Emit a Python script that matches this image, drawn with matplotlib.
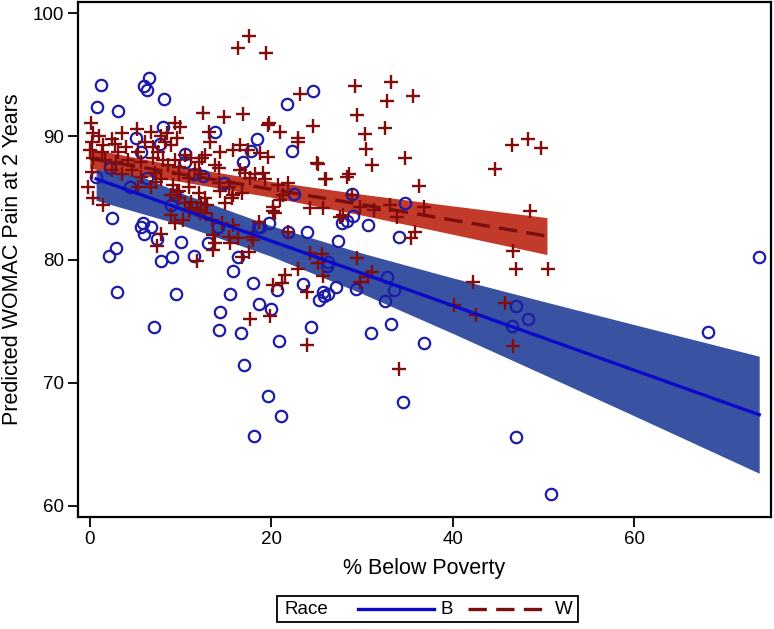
import matplotlib
matplotlib.use("Agg")
import matplotlib.pyplot as plt
from matplotlib.lines import Line2D
from matplotlib.patches import Rectangle

# ---------------- data ----------------
b_x = [1.27, 0.83, 3.14, 6.56, 6.0, 6.34, 8.2, 8.1, 13.8, 18.4, 5.1, 7.7, 5.6, 10.5, 10.5,
       16.9, 17.8, 0.7, 2.26, 4.47, 6.34, 9.0, 9.4, 11.5, 14.8, 2.5, 5.9, 5.7, 6.7, 6.0,
       7.4, 10.1, 14.1, 13.0, 18.5, 2.15, 2.9, 7.9, 9.1, 11.5, 3.0, 9.5, 7.1, 14.3, 14.2,
       15.8, 15.5, 16.3, 18.0, 18.6, 16.7, 17.0, 18.1, 20.0, 20.9, 20.6, 18.8, 19.8, 21.9,
       24.0, 23.5, 24.4, 25.3, 25.85, 25.7, 26.3, 27.1, 26.3, 26.2, 27.4, 27.8, 28.4, 29.05,
       19.6, 21.1, 29.3, 31.0, 32.8, 33.5, 32.6, 33.2, 34.5, 36.8, 47.0, 46.6, 48.3, 47.0,
       50.8, 28.9, 30.7, 34.8, 34.1, 24.6, 21.7, 22.3, 12.5, 22.5, 73.8, 68.1]
b_y = [94.2, 92.4, 92.05, 94.7, 94.1, 93.75, 93.0, 90.75, 90.35, 89.8, 89.9, 89.4, 88.7, 88.55, 87.9,
       87.9, 88.8, 86.7, 87.4, 85.9, 86.6, 84.4, 85.2, 86.9, 86.2, 83.4, 83.0, 82.6, 82.6, 82.1,
       81.7, 81.4, 82.6, 81.3, 82.6, 80.3, 80.9, 79.9, 80.2, 80.3, 77.4, 77.2, 74.5, 75.7, 74.3,
       79.1, 77.2, 80.2, 78.1, 76.4, 74.0, 71.4, 65.7, 76.0, 73.4, 77.5, 82.6, 83.0, 82.2,
       82.2, 78.0, 74.5, 76.7, 77.0, 77.4, 77.2, 77.8, 79.8, 79.5, 81.5, 83.0, 83.1, 83.5,
       68.9, 67.3, 77.6, 74.0, 78.6, 77.5, 76.6, 74.8, 68.4, 73.2, 76.2, 74.6, 75.2, 65.6,
       61.0, 85.3, 82.8, 84.6, 81.8, 93.7, 92.6, 88.8, 86.8, 85.3, 80.2, 74.1]

w_x = [16.3, 17.6, 19.4, 23.2, 29.2, 33.2, 32.8, 35.6, 29.5, 30.3, 32.6, 30.5, 34.7, 31.1,
       24.6, 22.9, 23.0, 21.0, 19.8, 19.6, 12.5, 14.8, 16.9, 0.1, 9.4, 10.0, 28.6, 25.9, 25.2,
       36.3, 44.7, 46.6, 48.35, 49.7, 28.9, 29.8, 31.3, 33.1, 36.8, 33.9, 35.8, 35.45, 27.6,
       29.5, 31.15, 30.7, 29.8, 42.3, 40.1, 42.6, 45.8, 46.7, 46.7, 47.0, 48.5, 50.55, 34.1,
       24.3, 25.6, 25.2, 25.7, 23.0, 21.55, 21.2, 20.2, 24.0, 19.9, 24.0, 17.7, 24.3, 25.7,
       21.9, 18.7, 20.2, 17.9, 18.25, 19.1, 19.35, 20.8, 21.9, 21.3, 21.0, 20.2, 20.45, 18.8,
       19.7, 14.4, 15.8, 16.6, 17.4, 13.1, 13.3, 12.7, 12.4, 13.8, 14.2, 16.6, 17.1, 17.7,
       14.2, 14.4, 15.3, 15.8, 16.8, 14.9, 15.7, 12.7, 12.95, 25.1, 26.0, 28.4, 27.95, 12.7,
       13.5, 14.6, 15.8, 13.6, 15.3, 16.3, 13.8, 15.5, 13.6, 17.5, 16.8, 18.0, 11.85, 8.9,
       9.4, 7.9, 7.4, 9.2, 9.65, 10.5, 11.3, 11.85, 10.3,
       0.4, 1.05, 2.4, 3.5, 5.2, 6.7, 7.9, 8.5, 9.65, 8.3, 0.2, 1.5, 2.8, 4.0, 6.1, 7.0, 8.9,
       7.55, 5.35, 3.15, 1.3, 0.06, 0.4, 1.7, 2.9, 4.2, 5.7, 7.0, 8.1, 9.4, 10.5, 11.2, 12.0,
       9.8, 8.65, 11.6, 0.2, 2.4, 3.5, 4.6, 5.7, 7.2, 7.9, 9.8, 10.9, 12.2, -0.2, 5.35, 6.8,
       7.3, 9.8, 10.9, 12.0, 1.5, 9.0, 9.8, 11.2, 12.3, 10.9, 12.2, 0.4]
w_y = [97.2, 98.1, 96.8, 93.4, 94.1, 94.4, 92.9, 93.3, 91.7, 90.2, 90.7, 89.0, 88.2, 87.7,
       90.8, 89.9, 89.5, 90.35, 91.1, 90.9, 91.9, 91.6, 91.8, 91.1, 91.1, 90.75, 86.9, 86.5, 87.75,
       86.0, 87.35, 89.3, 89.8, 89.05, 85.2, 84.3, 84.0, 84.4, 84.3, 83.45, 82.2, 81.75, 83.45,
       80.1, 79.0, 78.6, 78.2, 78.2, 76.3, 75.5, 76.5, 73.0, 80.7, 79.2, 83.9, 79.2, 71.1,
       80.5, 80.45, 79.7, 78.7, 79.2, 78.75, 78.1, 77.9, 77.4, 75.4, 73.1, 75.2, 84.2, 84.2,
       82.2, 83.05, 83.9, 81.8, 86.9, 87.0, 86.5, 86.05, 86.2, 85.2, 84.8, 84.3, 83.8, 88.65,
       88.3, 88.7, 88.9, 89.3, 88.9, 90.35, 89.5, 88.5, 88.2, 87.7, 87.4, 87.3, 87.0, 86.6,
       86.2, 85.6, 85.9, 85.2, 85.4, 84.6, 85.0, 85.0, 84.4, 87.8, 86.5, 86.7, 83.6, 83.8,
       83.2, 83.0, 82.8, 82.0, 81.8, 81.75, 81.35, 81.35, 80.8, 80.6, 80.2, 81.6, 79.9, 83.6,
       83.0, 82.1, 81.1, 86.05, 85.5, 84.6, 84.2, 84.0, 83.2,
       90.3, 90.0, 89.8, 90.3, 90.6, 90.35, 90.0, 90.3, 89.9, 89.5, 89.5, 89.3, 89.4, 89.1, 89.5, 89.1, 89.3,
       88.7, 88.7, 88.7, 88.7, 88.9, 88.2, 88.1, 87.9, 88.1, 87.9, 88.2, 88.1, 88.1, 88.5, 88.2, 87.9,
       87.5, 87.7, 87.3, 87.1, 87.3, 86.9, 87.3, 86.7, 87.0, 86.5, 86.9, 86.6, 86.9, 85.9, 85.9, 85.9,
       86.3, 85.6, 85.9, 85.4, 84.4, 85.2, 85.0, 84.7, 84.6, 83.9, 83.8, 85.0]

# fitted lines and 95% confidence bands
b_fit_x = [0.7, 10, 20, 30, 40, 50, 60, 73.8]
b_fit_y = [86.55, 84.12, 81.50, 78.88, 76.26, 73.64, 71.02, 67.40]
b_lo = [84.8, 82.83, 80.26, 77.24, 74.01, 70.68, 67.32, 62.65]
b_hi = [88.3, 85.41, 82.74, 80.52, 78.51, 76.60, 74.72, 72.15]

w_fit_x = [0.0, 10, 20, 30, 40, 50.4]
w_fit_y = [88.2, 86.95, 85.7, 84.45, 83.2, 81.9]
w_lo = [87.4, 86.33, 85.06, 83.60, 82.05, 80.4]
w_hi = [89.0, 87.57, 86.34, 85.30, 84.35, 83.4]

x_ticks = [0, 20, 40, 60]
y_ticks = [60, 70, 80, 90, 100]
legend_title = "Race"
legend_labels = ["B", "W"]

# ---------------- styling ----------------
BLUE_PT = "#1c1ca8"
BLUE_LN = "#0a0ac8"
BLUE_BAND = "#3a52a2"
RED_PT = "#820c0c"
RED_LN = "#7a0e0e"
RED_BAND = "#c23a2a"
DASH = (0, (5.5, 2.8))
plt.rcParams["font.family"] = ["Liberation Sans", "DejaVu Sans"]

fig = plt.figure(figsize=(7.74, 6.29), dpi=100)
ax = fig.add_axes([78 / 774, 1 - 517 / 629, (771 - 78) / 774, (517 - 2) / 629])

ax.fill_between(b_fit_x, b_lo, b_hi, color=BLUE_BAND, lw=0, zorder=1)
ax.fill_between(w_fit_x, w_lo, w_hi, color=RED_BAND, lw=0, zorder=1.1)

ax.plot(b_x, b_y, ls="none", marker="o", ms=8.2, mfc="none", mec=BLUE_PT, mew=1.6, zorder=3)
ax.plot(w_x, w_y, ls="none", marker="+", ms=10, mec=RED_PT, mew=1.7, zorder=3)

ax.plot(b_fit_x, b_fit_y, color=BLUE_LN, lw=2.4, zorder=4)
ax.plot(w_fit_x, w_fit_y, color=RED_LN, lw=2.4, ls=DASH, zorder=4)

ax.set_xlim(-1.3, 75.1)
ax.set_ylim(59.1, 100.9)
ax.set_xticks(x_ticks)
ax.set_yticks(y_ticks)
ax.tick_params(direction="out", length=7, width=1.3, labelsize=13.5, pad=3,
               top=False, right=False)
for s in ax.spines.values():
    s.set_linewidth(1.6)
ax.set_xlabel("% Below Poverty", fontsize=15.5, labelpad=7)
ax.set_ylabel("Predicted WOMAC Pain at 2 Years", fontsize=15.5, labelpad=7)

# legend box at bottom
def fx(px):
    return px / 774
def fy(py):
    return 1 - py / 629

fig.add_artist(Rectangle((fx(277), fy(622)), fx(578) - fx(277), fy(596) - fy(622),
                         transform=fig.transFigure, fill=False, ec="black", lw=1.3))
ymid = fy(609)
fig.text(fx(284), ymid, legend_title, fontsize=13.5, va="center", ha="left")
fig.add_artist(Line2D([fx(358), fx(434)], [ymid, ymid], transform=fig.transFigure,
                      color=BLUE_LN, lw=2.4))
fig.text(fx(440), ymid, legend_labels[0], fontsize=13.5, va="center", ha="left")
fig.add_artist(Line2D([fx(468), fx(542)], [ymid, ymid], transform=fig.transFigure,
                      color=RED_LN, lw=2.4, ls=DASH))
fig.text(fx(555), ymid, legend_labels[1], fontsize=13.5, va="center", ha="left")

fig.savefig("out.png", dpi=100)
